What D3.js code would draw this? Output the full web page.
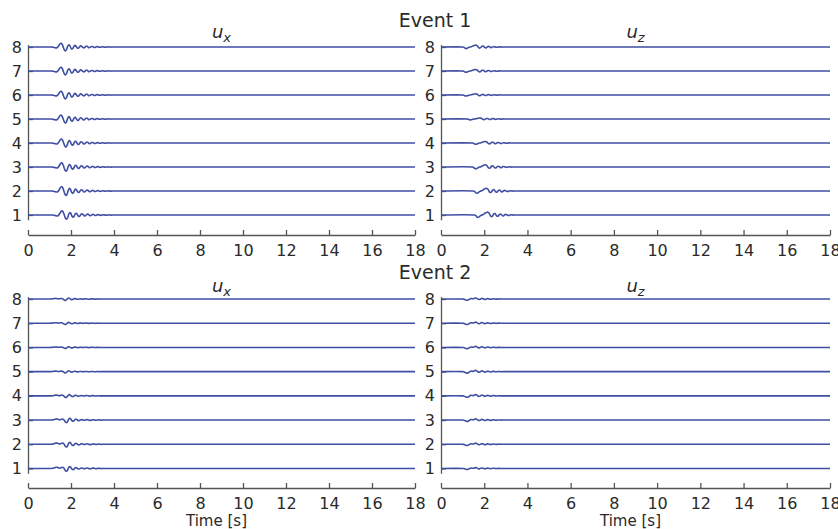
<!DOCTYPE html>
<html>
<head>
<meta charset="utf-8">
<script src="https://cdn.jsdelivr.net/npm/d3@7"></script>
<style>
  html, body { margin: 0; padding: 0; background: #fff; }
  svg { display: block; font-family: "DejaVu Sans", sans-serif; }
</style>
</head>
<body>
<div id="chart"></div>
<script>
// station numbers (trace offsets) and x ticks
var stations = [1, 2, 3, 4, 5, 6, 7, 8];
var timeTicks = [0, 2, 4, 6, 8, 10, 12, 14, 16, 18];
var events = ['Event 1', 'Event 2'];
var components = ['x', 'z'];

// sample times of the wavelets (s)
var waveTimes = [
  1.00, 1.05, 1.10, 1.15, 1.20, 1.25, 1.30, 1.35, 1.40, 1.45,
  1.50, 1.55, 1.60, 1.65, 1.70, 1.75, 1.80, 1.85, 1.90, 1.95,
  2.00, 2.05, 2.10, 2.15, 2.20, 2.25, 2.30, 2.35, 2.40, 2.45,
  2.50, 2.55, 2.60, 2.65, 2.70, 2.75, 2.80, 2.85, 2.90, 2.95,
  3.00, 3.05, 3.10, 3.15, 3.20, 3.25, 3.30, 3.35, 3.40, 3.45,
  3.50, 3.55, 3.60, 3.65, 3.70, 3.75, 3.80, 3.85, 3.90, 3.95,
  4.00
];

// wavelet shapes (in units of trace spacing)
var ev1_ux = [
  0, 0, 0, -0.01, -0.02, -0.03, -0.04, -0.03, 0.02, 0.09,
  0.15, 0.16, 0.09, -0.03, -0.14, -0.17, -0.09, 0.04, 0.10, 0.05,
  -0.05, -0.09, -0.04, 0.05, 0.07, 0.01, -0.05, -0.05, 0.01, 0.05,
  0.03, -0.02, -0.04, -0.01, 0.03, 0.03, -0.01, -0.03, -0.01, 0.02,
  0.02, -0.01, -0.02, 0, 0.015, 0.01, -0.01, -0.012, 0, 0.01,
  0.006, -0.006, -0.008, 0, 0.005, 0.003, -0.003, -0.003, 0, 0,
  0
];
var ev1_uz = [
  0, -0.01, -0.04, -0.06, -0.05, -0.03, -0.01, 0, 0.01, 0.03,
  0.05, 0.06, 0.07, 0.06, 0.02, -0.03, -0.04, -0.01, 0.03, 0.035,
  0, -0.03, -0.025, 0.01, 0.025, 0.01, -0.02, -0.02, 0.005, 0.015,
  0.005, -0.01, -0.01, 0, 0.006, 0.003, -0.003, 0, 0, 0,
  0, 0, 0, 0, 0, 0, 0, 0, 0, 0,
  0, 0, 0, 0, 0, 0, 0, 0, 0, 0,
  0
];
var ev2_ux = [
  0, 0, 0.005, 0.01, 0.02, 0.03, 0.03, 0.02, 0.01, 0.01,
  0.02, 0.03, 0.02, -0.02, -0.06, -0.07, -0.03, 0.03, 0.05, 0.02,
  -0.02, -0.03, -0.01, 0.02, 0.02, 0, -0.015, -0.01, 0.005, 0.01,
  0.005, -0.005, -0.005, 0.008, 0.012, 0.005, -0.008, -0.01, -0.003, 0.008,
  0.008, 0, -0.007, -0.005, 0.003, 0.005, 0, -0.003, 0, 0,
  0, 0, 0, 0, 0, 0, 0, 0, 0, 0,
  0
];
var ev2_uz = [
  0, -0.005, -0.02, -0.04, -0.05, -0.045, -0.02, 0.01, 0.02, 0.01,
  0.01, 0.03, 0.045, 0.03, 0, -0.02, -0.01, 0.015, 0.025, 0.01,
  -0.01, -0.015, 0, 0.015, 0.012, -0.005, -0.012, -0.005, 0.008, 0.008,
  0, -0.006, -0.004, 0.003, 0.004, 0, -0.002, 0, 0, 0,
  0, 0, 0, 0, 0, 0, 0, 0, 0, 0,
  0, 0, 0, 0, 0, 0, 0, 0, 0, 0,
  0
];

// per-station arrival delay (s) and gain, station 1..8
var ev1_ux_shift = [0.05, 0.03, 0.03, 0.02, 0, 0, 0, 0];
var ev1_ux_gain  = [1.05, 1.1, 1.05, 1.0, 1.0, 0.95, 0.95, 0.95];
var ev1_uz_shift = [0.55, 0.5, 0.45, 0.45, 0.2, 0, 0, 0];
var ev1_uz_gain  = [1.7, 1.6, 1.3, 0.9, 0.6, 0.7, 0.9, 1.1];
var ev2_ux_shift = [0.05, 0.05, 0.05, 0.03, 0, 0, 0, 0];
var ev2_ux_gain  = [1.6, 1.6, 1.5, 1.0, 0.7, 0.6, 0.7, 0.8];
var ev2_uz_shift = [0, 0, 0, 0, 0, 0, 0, 0];
var ev2_uz_gain  = [0.8, 1.0, 1.1, 1.2, 1.2, 1.0, 1.0, 1.0];

var width = 838, height = 529;
var lineColor = '#3f4ea3',
    axisColor = '#555',
    textColor = '#2a2a2a';

var svg = d3.select('#chart').append('svg')
    .attr('width', width)
    .attr('height', height);

// panel layout: columns (x) and rows (events)
var cols = [{x0: 28, x1: 415}, {x0: 441, x1: 830}];
var rows = [
  {yTop: 44.6, yBot: 219.8, axisY: 235, title: 26.5, sub: 37.5},
  {yTop: 296.6, yBot: 473.3, axisY: 488, title: 279, sub: 291.5}
];

var panels = [
  {row: 0, col: 0, shape: ev1_ux, shift: ev1_ux_shift, gain: ev1_ux_gain},
  {row: 0, col: 1, shape: ev1_uz, shift: ev1_uz_shift, gain: ev1_uz_gain},
  {row: 1, col: 0, shape: ev2_ux, shift: ev2_ux_shift, gain: ev2_ux_gain},
  {row: 1, col: 1, shape: ev2_uz, shift: ev2_uz_shift, gain: ev2_uz_gain}
];

panels.forEach(function(p){
  var c = cols[p.col], r = rows[p.row];
  var x = d3.scaleLinear().domain([0, 18]).range([c.x0, c.x1]);
  var y = d3.scaleLinear().domain([0.8, 8.1]).range([r.yBot, r.yTop]);
  var g = svg.append('g');

  // x axis (offset below the traces, ticks pointing up)
  var xa = g.append('g')
      .attr('transform', 'translate(0,' + r.axisY + ')')
      .call(d3.axisBottom(x).tickValues(timeTicks).tickSizeInner(-5).tickSizeOuter(0).tickPadding(10));
  // y axis
  var ya = g.append('g')
      .attr('transform', 'translate(' + c.x0 + ',0)')
      .call(d3.axisLeft(y).tickValues(stations).tickSizeInner(-5).tickSizeOuter(0).tickPadding(6));

  [xa, ya].forEach(function(a){
    a.select('.domain').attr('stroke', axisColor).attr('stroke-width', 1.3);
    a.selectAll('.tick line').attr('stroke', axisColor).attr('stroke-width', 1.3);
    a.selectAll('.tick text')
      .attr('fill', textColor)
      .style('font-size', '16px')
      .style('font-family', '"DejaVu Sans", sans-serif');
  });

  // traces
  var line = d3.line()
      .x(function(d){ return x(d[0]); })
      .y(function(d){ return y(d[1]); })
      .curve(d3.curveCatmullRom);

  g.selectAll('path.trace')
    .data(stations)
    .enter().append('path')
      .attr('class', 'trace')
      .attr('fill', 'none')
      .attr('stroke', lineColor)
      .attr('stroke-width', 1.6)
      .attr('d', function(s, i){
        var pts = [[0, s]];
        waveTimes.forEach(function(t, k){
          pts.push([t + p.shift[i], s + p.gain[i] * p.shape[k]]);
        });
        pts.push([18, s]);
        return line(pts);
      });

  // component label u_x / u_z
  var lab = g.append('text')
      .attr('x', (c.x0 + c.x1) / 2)
      .attr('y', r.sub)
      .attr('text-anchor', 'middle')
      .attr('fill', textColor)
      .style('font-size', '18px');
  lab.append('tspan').style('font-style', 'italic').text('u');
  lab.append('tspan').style('font-style', 'italic').style('font-size', '13px')
      .attr('dy', 4).text(components[p.col]);

  // x label under bottom row
  if(p.row === 1){
    g.append('text')
      .attr('x', (c.x0 + c.x1) / 2 - 5)
      .attr('y', 526)
      .attr('text-anchor', 'middle')
      .attr('fill', textColor)
      .style('font-size', '15px')
      .text('Time [s]');
  }
});

// event titles
rows.forEach(function(r, i){
  svg.append('text')
    .attr('x', 435)
    .attr('y', r.title)
    .attr('text-anchor', 'middle')
    .attr('fill', textColor)
    .style('font-size', '19px')
    .text(events[i]);
});
</script>
</body>
</html>
